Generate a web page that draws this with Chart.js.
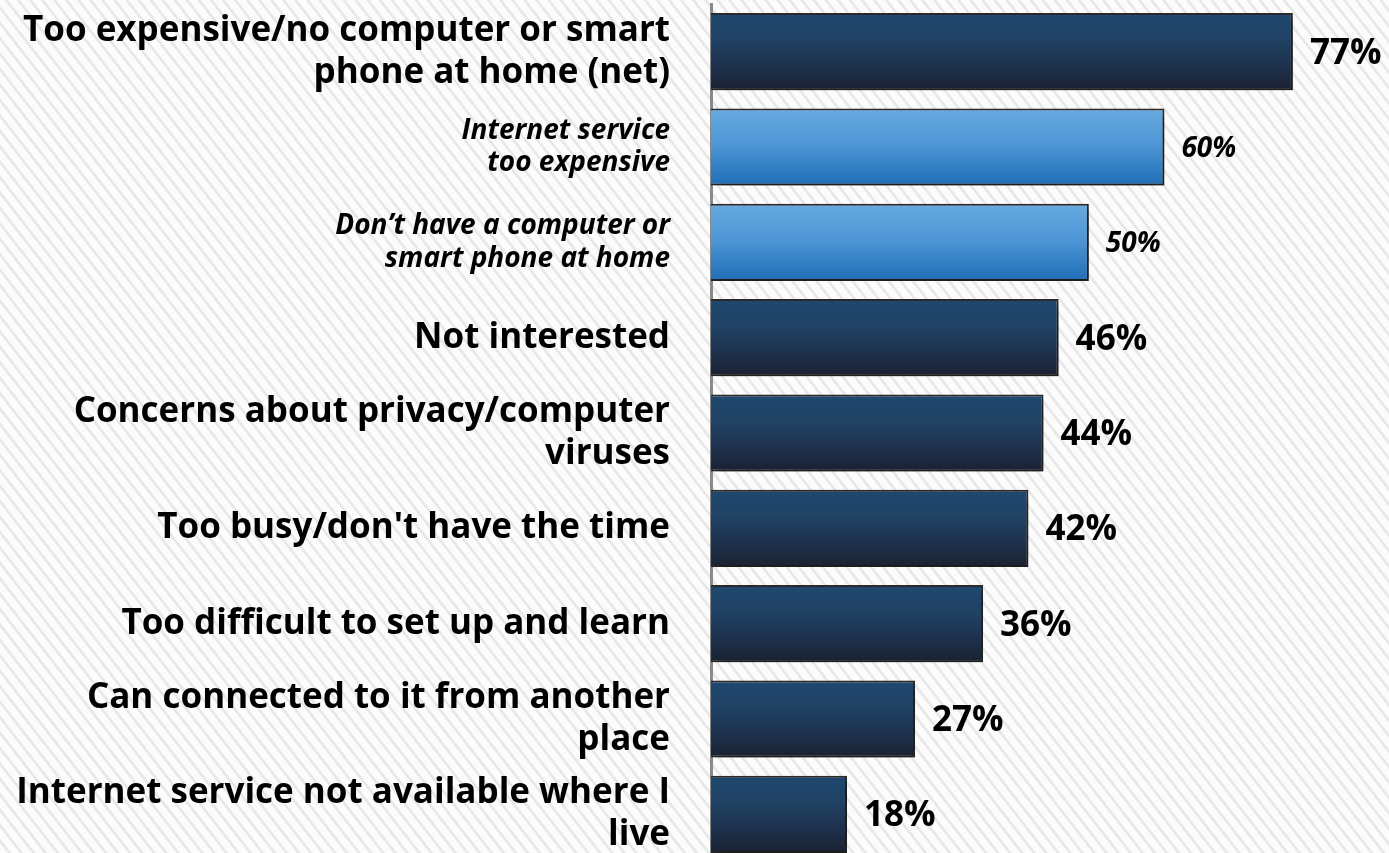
<!DOCTYPE html>
<html>
<head>
<meta charset="utf-8">
<script src="https://cdn.jsdelivr.net/npm/chart.js@4/dist/chart.umd.min.js"></script>
<style>
  html, body { margin:0; padding:0; width:1389px; height:853px; overflow:hidden; }
  body {
    background-color:#fcfcfc;
    background-image: repeating-linear-gradient(52deg, #fcfcfc 0px, #fcfcfc 5.5px, #e6e6e6 7px, #e6e6e6 8px, #fcfcfc 9.5px);
  }
  #wrap { position:absolute; left:0; top:0; width:1389px; height:862px; }
</style>
</head>
<body>
<div id="wrap"><canvas id="c"></canvas></div>
<script>
const categories = [
  ["Too expensive/no computer or smart", "phone at home (net)"],
  ["Internet service", "too expensive"],
  ["Don\u2019t have a computer or", "smart phone at home"],
  "Not interested",
  ["Concerns about privacy/computer", "viruses"],
  "Too busy/don't have the time",
  "Too difficult to set up and learn",
  ["Can connected to it from another", "place"],
  ["Internet service not available where I", "live"]
];
const values = [77, 60, 50, 46, 44, 42, 36, 27, 18];
const isSubItem = [false, true, true, false, false, false, false, false, false];

const FONT = "'Open Sans', 'DejaVu Sans', sans-serif";

function barGradient(c) {
  const chart = c.chart;
  const ys = chart.scales && chart.scales.y;
  const sub = isSubItem[c.dataIndex];
  if (!ys || !chart.chartArea) return sub ? '#4a90d0' : '#1f3a58';
  const yc = ys.getPixelForValue(c.dataIndex);
  const g = chart.ctx.createLinearGradient(0, yc - 39, 0, yc + 39);
  if (sub) {
    g.addColorStop(0, '#66aae0');
    g.addColorStop(0.45, '#4f97d6');
    g.addColorStop(1, '#1f6db6');
  } else {
    g.addColorStop(0, '#1f4870');
    g.addColorStop(0.35, '#204264');
    g.addColorStop(0.65, '#1e3350');
    g.addColorStop(1, '#1a2131');
  }
  return g;
}

const shadowPlugin = {
  id: 'shadow',
  beforeDatasetsDraw(chart) {
    const ctx = chart.ctx;
    ctx.save();
    ctx.shadowColor = 'rgba(0,0,0,0.38)';
    ctx.shadowBlur = 9;
    ctx.shadowOffsetX = 5;
    ctx.shadowOffsetY = 6;
  },
  afterDatasetsDraw(chart) {
    chart.ctx.restore();
  }
};

const labelPlugin = {
  id: 'valueLabels',
  afterDraw(chart) {
    const ctx = chart.ctx;
    const meta = chart.getDatasetMeta(0);
    ctx.save();
    ctx.fillStyle = '#000';
    ctx.textAlign = 'left';
    ctx.textBaseline = 'middle';
    meta.data.forEach((el, i) => {
      const sub = isSubItem[i];
      ctx.font = sub ? ("italic bold 28px " + FONT) : ("bold 35px " + FONT);
      ctx.fillText(values[i] + '%', el.x + 17, el.y + 2);
    });
    ctx.restore();
  }
};

new Chart(document.getElementById('c'), {
  type: 'bar',
  data: {
    labels: categories,
    datasets: [{
      data: values,
      backgroundColor: barGradient,
      borderColor: '#2a2a2a',
      borderWidth: 2,
      borderSkipped: 'start',
      categoryPercentage: 1,
      barPercentage: 0.81
    }]
  },
  options: {
    indexAxis: 'y',
    responsive: true,
    maintainAspectRatio: false,
    animation: false,
    layout: { padding: { top: 4, right: 13, bottom: 0, left: 0 } },
    plugins: { legend: { display: false }, tooltip: { enabled: false } },
    scales: {
      x: { display: false, min: 0, max: 88 },
      y: {
        afterFit(scale) { scale.width = 711; scale.paddingTop = 0; scale.paddingBottom = 0; },
        grid: { display: false, drawTicks: false },
        border: { display: true, color: '#8a8a8a', width: 3 },
        ticks: {
          padding: 41,
          color: '#000',
          font: (c) => isSubItem[c.index]
            ? { family: FONT, size: 28, weight: 'bold', style: 'italic', lineHeight: 1.17 }
            : { family: FONT, size: 35, weight: 'bold', lineHeight: 1.2 }
        }
      }
    }
  },
  plugins: [shadowPlugin, labelPlugin]
});
</script>
</body>
</html>
